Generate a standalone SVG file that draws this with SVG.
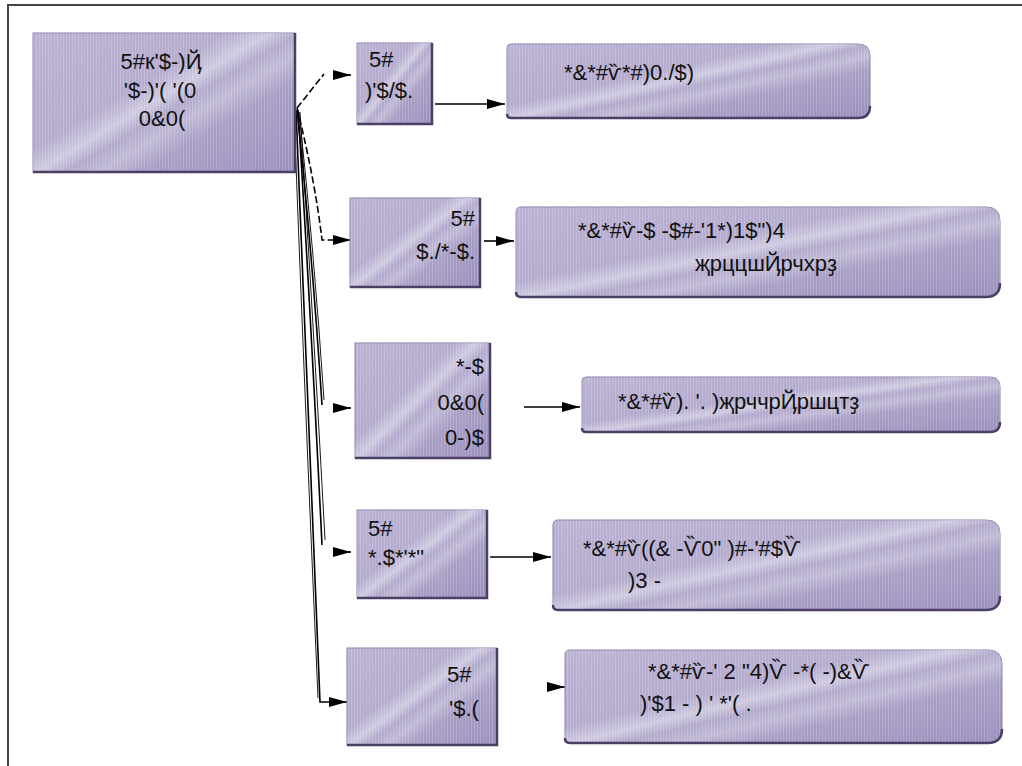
<svg xmlns="http://www.w3.org/2000/svg" width="1022" height="766" viewBox="0 0 1022 766">
<style>
.t{font-family:"Liberation Sans",Arial,sans-serif;font-size:22px;fill:#111}
.m{text-anchor:middle}
.e{text-anchor:end}
.box{fill:url(#base);stroke:#8a7fa8;stroke-width:1}
.tex{fill:url(#stripes)}
.sheen{fill:url(#sheen)}
.edge{fill:none;stroke:#4b3f66;stroke-width:2.5}
.c{fill:none;stroke:#000;stroke-width:1.6}
.c2{fill:none;stroke:#000;stroke-width:0.9}
.d{stroke-dasharray:7 3}
.a{fill:none;stroke:#000;stroke-width:1.6}
</style>
<defs>
<linearGradient id="base" x1="0" y1="0" x2="1" y2="1">
<stop offset="0" stop-color="#b8aed2"/>
<stop offset="0.5" stop-color="#a89ec6"/>
<stop offset="1" stop-color="#9b90bb"/>
</linearGradient>
<linearGradient id="sheen" x1="0" y1="0.2" x2="0.9" y2="1">
<stop offset="0" stop-color="#fff" stop-opacity="0.05"/>
<stop offset="0.35" stop-color="#fff" stop-opacity="0.1"/>
<stop offset="0.45" stop-color="#fff" stop-opacity="0.45"/>
<stop offset="0.52" stop-color="#fff" stop-opacity="0.12"/>
<stop offset="0.6" stop-color="#fff" stop-opacity="0.3"/>
<stop offset="0.7" stop-color="#fff" stop-opacity="0.05"/>
<stop offset="1" stop-color="#fff" stop-opacity="0"/>
</linearGradient>
<pattern id="stripes" width="3" height="4" patternUnits="userSpaceOnUse">
<rect x="0" y="0" width="1" height="4" fill="#fff" fill-opacity="0.18"/>
</pattern>
<marker id="ah" viewBox="0 0 18 10" refX="18" refY="5" markerWidth="18" markerHeight="10" markerUnits="userSpaceOnUse" orient="auto">
<path d="M0,0 L18,5 L0,10 Z" fill="#000"/>
</marker>
</defs>
<rect x="0" y="0" width="1022" height="766" fill="#fff"/>
<path d="M8,766 V5 H1022" fill="none" stroke="#444" stroke-width="2"/>

<g id="connectors">
<path class="c d" d="M297,108 L324,74"/>
<path class="a" d="M333,75 L351,75" marker-end="url(#ah)"/>
<path class="c d" d="M297,108 Q315,180 322,240 L351,240" marker-end="url(#ah)"/>
<path class="c" d="M297,110 Q312,250 322,405"/>
<path class="c2" d="M299,112 Q314,250 324,400"/>
<path class="a" d="M333,408 L351,408" marker-end="url(#ah)"/>
<path class="c" d="M298,110 Q310,300 322,545"/>
<path class="c2" d="M300,112 Q312,300 325,540"/>
<path class="a" d="M333,552 L351,552" marker-end="url(#ah)"/>
<path class="c" d="M296,110 Q306,380 320,702 L347,702" marker-end="url(#ah)"/>
<path class="c2" d="M294,112 Q304,380 318,698"/>
<path class="c" d="M435,104 L505,104" marker-end="url(#ah)"/>
<path class="c" d="M484,241 L514,241" marker-end="url(#ah)"/>
<path class="c" d="M524,407 L580,407" marker-end="url(#ah)"/>
<path class="c" d="M490,557 L551,557" marker-end="url(#ah)"/>
<path class="a" d="M549,687 L565,687" marker-end="url(#ah)"/>
</g>

<g id="root">
<rect class="box" x="33" y="33" width="262" height="139"/>
<rect class="tex" x="33" y="33" width="262" height="139"/>
<rect class="sheen" x="33" y="33" width="262" height="139"/>
<path class="edge" d="M33,172 H295 V33"/>
<text class="t m" x="161" y="69">5#к'$-)Ҋ</text>
<text class="t m" x="160" y="98">'$-)'( '(0</text>
<text class="t m" x="162" y="126">0&amp;0(</text>
</g>

<g id="n1">
<rect class="box" x="357" y="43" width="75" height="81"/>
<rect class="tex" x="357" y="43" width="75" height="81"/>
<rect class="sheen" x="357" y="43" width="75" height="81"/>
<path class="edge" d="M357,124 H432 V43"/>
<text class="t" x="369" y="67">5#</text>
<text class="t" x="365" y="98">)'$/$.</text>
</g>

<g id="r1">
<path class="box" d="M511,44 H858 Q870,44 870,56 V106 Q870,118 858,118 H511 Q507,118 507,114 V48 Q507,44 511,44 Z"/>
<path class="tex" d="M511,44 H858 Q870,44 870,56 V106 Q870,118 858,118 H511 Q507,118 507,114 V48 Q507,44 511,44 Z"/>
<path class="sheen" d="M511,44 H858 Q870,44 870,56 V106 Q870,118 858,118 H511 Q507,118 507,114 V48 Q507,44 511,44 Z"/>
<path class="edge" d="M507,114 Q507,118 511,118 H858 Q870,118 870,106"/>
<text class="t" x="564" y="80">*&amp;*#ѷ*#)0./$)</text>
</g>

<g id="n2">
<rect class="box" x="350" y="198" width="130" height="89"/>
<rect class="tex" x="350" y="198" width="130" height="89"/>
<rect class="sheen" x="350" y="198" width="130" height="89"/>
<path class="edge" d="M350,287 H480 V198"/>
<text class="t e" x="475" y="226">5#</text>
<text class="t e" x="475" y="259">$./*-$.</text>
</g>

<g id="r2">
<path class="box" d="M521,207 H986 Q1000,207 1000,221 V283 Q1000,297 986,297 H521 Q516,297 516,292 V212 Q516,207 521,207 Z"/>
<path class="tex" d="M521,207 H986 Q1000,207 1000,221 V283 Q1000,297 986,297 H521 Q516,297 516,292 V212 Q516,207 521,207 Z"/>
<path class="sheen" d="M521,207 H986 Q1000,207 1000,221 V283 Q1000,297 986,297 H521 Q516,297 516,292 V212 Q516,207 521,207 Z"/>
<path class="edge" d="M516,292 Q516,297 521,297 H986 Q1000,297 1000,283"/>
<text class="t" x="578" y="238">*&amp;*#ѷ-$ -$#-'1*)1$")4</text>
<text class="t" x="695" y="271">җрццшҊрчхрҙ</text>
</g>

<g id="n3">
<rect class="box" x="355" y="343" width="135" height="115"/>
<rect class="tex" x="355" y="343" width="135" height="115"/>
<rect class="sheen" x="355" y="343" width="135" height="115"/>
<path class="edge" d="M355,458 H490 V343"/>
<text class="t e" x="484" y="374">*-$</text>
<text class="t e" x="484" y="410">0&amp;0(</text>
<text class="t e" x="484" y="445">0-)$</text>
</g>

<g id="r3">
<path class="box" d="M586,377 H990 Q1000,377 1000,387 V422 Q1000,432 990,432 H586 Q582,432 582,428 V381 Q582,377 586,377 Z"/>
<path class="tex" d="M586,377 H990 Q1000,377 1000,387 V422 Q1000,432 990,432 H586 Q582,432 582,428 V381 Q582,377 586,377 Z"/>
<path class="sheen" d="M586,377 H990 Q1000,377 1000,387 V422 Q1000,432 990,432 H586 Q582,432 582,428 V381 Q582,377 586,377 Z"/>
<path class="edge" d="M582,428 Q582,432 586,432 H990 Q1000,432 1000,422"/>
<text class="t" x="618" y="409">*&amp;*#ѷ). '. )җрччрҊршцтҙ</text>
</g>

<g id="n4">
<rect class="box" x="357" y="510" width="130" height="88"/>
<rect class="tex" x="357" y="510" width="130" height="88"/>
<rect class="sheen" x="357" y="510" width="130" height="88"/>
<path class="edge" d="M357,598 H487 V510"/>
<text class="t" x="368" y="536">5#</text>
<text class="t" x="368" y="565">*.$*'*"</text>
</g>

<g id="r4">
<path class="box" d="M558,520 H986 Q1000,520 1000,534 V596 Q1000,610 986,610 H558 Q553,610 553,605 V525 Q553,520 558,520 Z"/>
<path class="tex" d="M558,520 H986 Q1000,520 1000,534 V596 Q1000,610 986,610 H558 Q553,610 553,605 V525 Q553,520 558,520 Z"/>
<path class="sheen" d="M558,520 H986 Q1000,520 1000,534 V596 Q1000,610 986,610 H558 Q553,610 553,605 V525 Q553,520 558,520 Z"/>
<path class="edge" d="M553,605 Q553,610 558,610 H986 Q1000,610 1000,596"/>
<text class="t" x="583" y="556">*&amp;*#ѷ((&amp; -Ѷ0" )#-'#$Ѷ</text>
<text class="t" x="628" y="588">)3 -</text>
</g>

<g id="n5">
<rect class="box" x="347" y="648" width="150" height="97"/>
<rect class="tex" x="347" y="648" width="150" height="97"/>
<rect class="sheen" x="347" y="648" width="150" height="97"/>
<path class="edge" d="M347,745 H497 V648"/>
<text class="t" x="447" y="682">5#</text>
<text class="t" x="449" y="716">'$.(</text>
</g>

<g id="r5">
<path class="box" d="M570,650 H988 Q1002,650 1002,664 V729 Q1002,743 988,743 H570 Q565,743 565,738 V655 Q565,650 570,650 Z"/>
<path class="tex" d="M570,650 H988 Q1002,650 1002,664 V729 Q1002,743 988,743 H570 Q565,743 565,738 V655 Q565,650 570,650 Z"/>
<path class="sheen" d="M570,650 H988 Q1002,650 1002,664 V729 Q1002,743 988,743 H570 Q565,743 565,738 V655 Q565,650 570,650 Z"/>
<path class="edge" d="M565,738 Q565,743 570,743 H988 Q1002,743 1002,729"/>
<text class="t" x="648" y="679">*&amp;*#ѷ-' 2 "4)Ѷ -*( -)&amp;Ѷ</text>
<text class="t" x="640" y="711">)'$1 - ) '  *'( .</text>
</g>
</svg>
